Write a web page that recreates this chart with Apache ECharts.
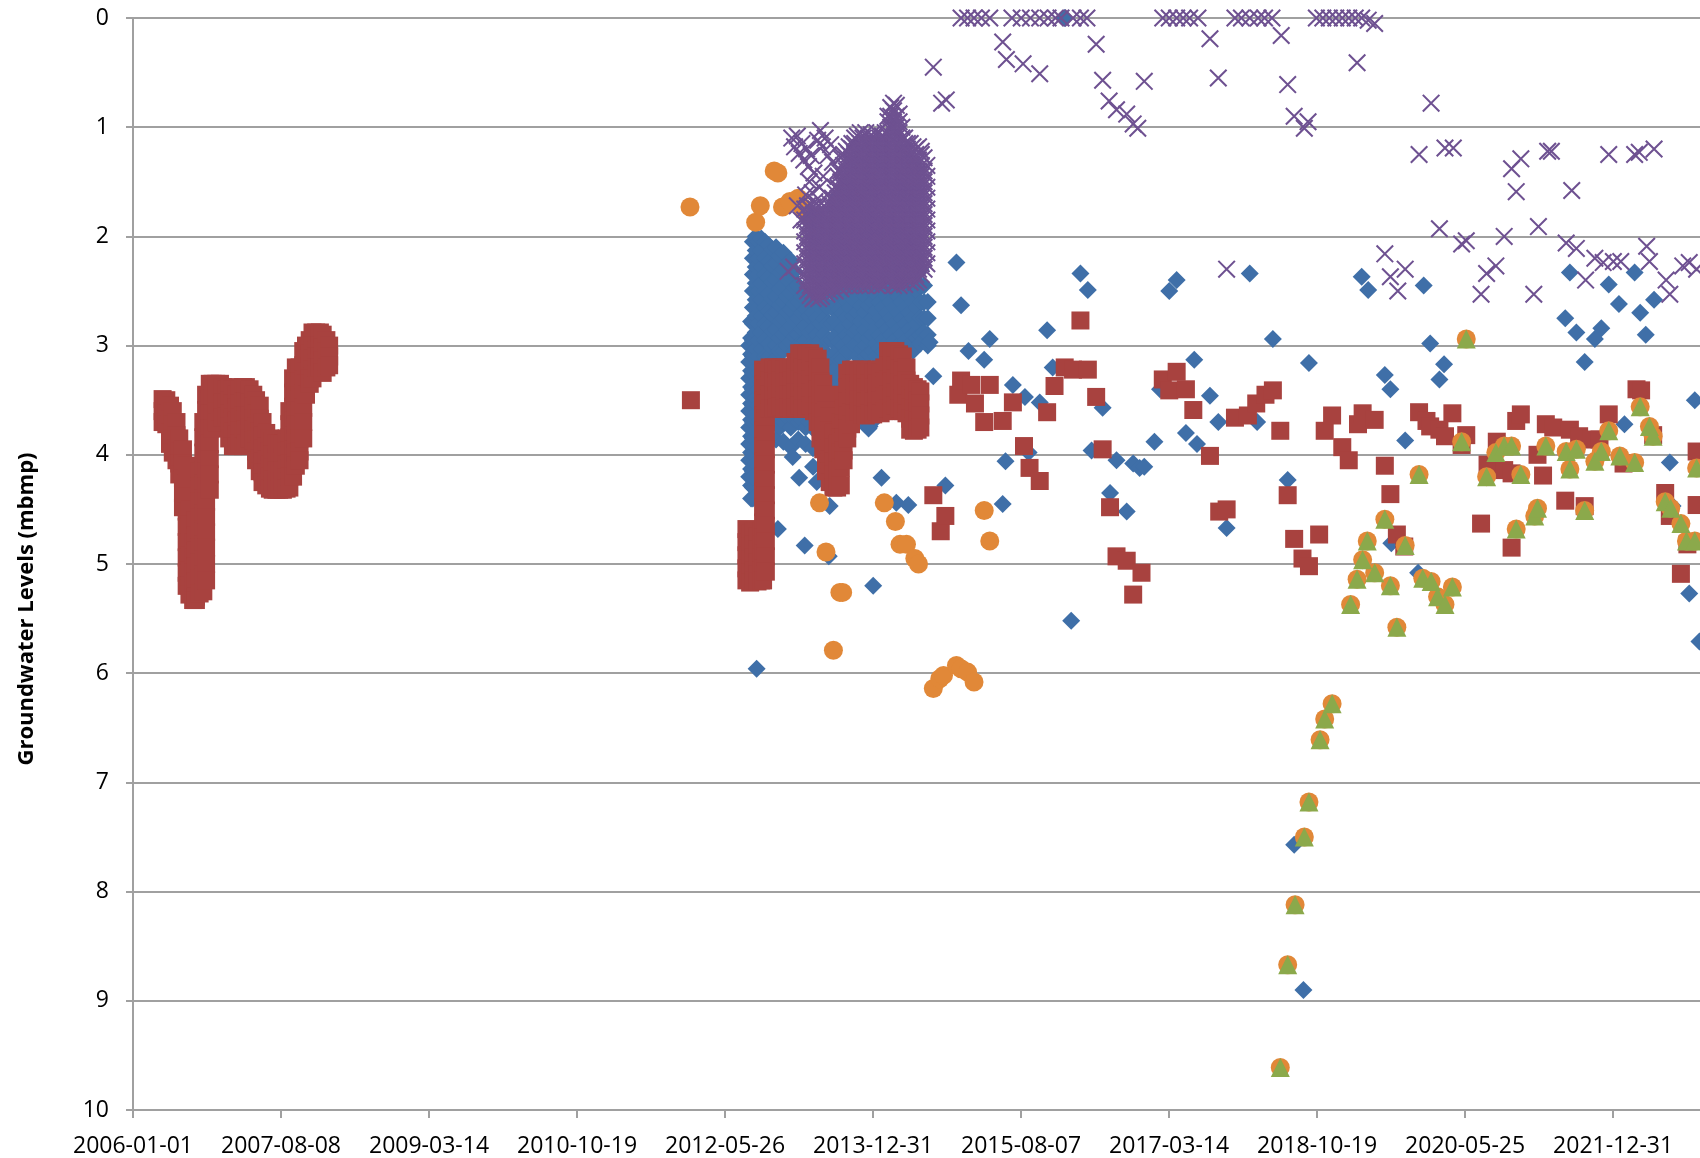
<!DOCTYPE html>
<html>
<head>
<meta charset="utf-8">
<script src="https://cdn.jsdelivr.net/npm/echarts@6/dist/echarts.min.js"></script>
<style>
  html, body { margin: 0; padding: 0; background: #ffffff; }
  #chart { width: 1700px; height: 1158px; }
</style>
</head>
<body>
<div id="chart"></div>
<script>
// Groundwater levels (metres below measuring point) for five monitoring points.
// Times are decimal years; logger stretches are stored as rows [year, level, level, ...].

const dateTicks = ['2006-01-01', '2007-08-08', '2009-03-14', '2010-10-19', '2012-05-26',
  '2013-12-31', '2015-08-07', '2017-03-14', '2018-10-19', '2020-05-25', '2021-12-31'];
const levelTicks = [0, 1, 2, 3, 4, 5, 6, 7, 8, 9, 10];

// --- Point A (blue diamonds) ---
const wellALogger = [
  [2012.66, 3.00, 3.15, 3.30, 3.45, 3.60, 3.75, 3.90, 4.05, 4.20],
  [2012.68, 2.78, 2.93, 3.08, 3.23, 3.38, 3.53, 3.68, 3.83, 3.98, 4.13, 4.28, 4.40],
  [2012.70, 2.05, 2.20, 2.35, 2.50, 2.65, 2.80, 2.95, 3.10, 3.25, 3.40, 3.55, 3.70, 3.85, 4.00, 4.15, 4.30],
  [2012.73, 2.00, 2.13, 2.28, 2.43, 2.58, 2.73, 2.88, 3.03, 3.18, 3.33, 3.48, 3.63, 3.78, 3.93, 4.08, 4.20],
  [2012.76, 2.05, 2.20, 2.35, 2.50, 2.65, 2.80, 2.95, 3.10, 3.25, 3.40, 3.55, 3.70],
  [2012.79, 2.02, 2.13, 2.28, 2.43, 2.58, 2.73, 2.88, 3.03, 3.18, 3.33, 3.48],
  [2012.83, 2.05, 2.20, 2.35, 2.50, 2.65, 2.80, 2.95, 3.10],
  [2012.87, 2.08, 2.23, 2.38, 2.53, 2.68, 2.83, 2.98, 3.10, 3.70, 3.85],
  [2012.91, 2.12, 2.27, 2.42, 2.57, 2.72, 2.87, 3.02, 3.15, 3.68],
  [2012.95, 2.10, 2.25, 2.40, 2.55, 2.70, 2.85, 3.00, 3.12, 3.72, 3.86],
  [2012.99, 2.18, 2.33, 2.48, 2.63, 2.78, 2.93, 3.05, 3.75],
  [2013.03, 2.15, 2.30, 2.45, 2.60, 2.75, 2.90, 3.05, 3.70, 3.88],
  [2013.07, 2.25, 2.40, 2.55, 2.70, 2.85, 3.00, 3.66],
  [2013.11, 2.22, 2.37, 2.52, 2.67, 2.82, 2.97, 3.75, 3.93],
  [2013.15, 2.32, 2.47, 2.62, 2.77, 2.92, 3.05, 3.68],
  [2013.19, 2.45, 2.60, 2.75, 2.90, 3.00, 3.70, 3.86],
  [2013.23, 2.55, 2.70, 2.85, 2.98, 3.68],
  [2013.27, 2.52, 2.67, 2.82, 2.96, 3.75, 3.90],
  [2013.31, 2.58, 2.73, 2.88, 3.00, 3.70],
  [2013.35, 2.55, 2.70, 2.85, 3.00, 3.76, 3.94],
  [2013.39, 2.60, 2.75, 2.90, 3.00],
  [2013.43, 2.50, 2.65, 2.80, 2.95],
  [2013.47, 2.45, 2.60, 2.75, 2.90, 3.05],
  [2013.51, 2.20, 2.35, 2.50, 2.65, 2.80, 2.95, 3.10, 3.22],
  [2013.55, 1.90, 2.05, 2.20, 2.35, 2.50, 2.65, 2.80, 2.95, 3.10, 3.25, 3.40],
  [2013.59, 1.72, 1.87, 2.02, 2.17, 2.32, 2.47, 2.62, 2.77, 2.92, 3.07, 3.22, 3.37, 3.46],
  [2013.63, 1.62, 1.77, 1.92, 2.07, 2.22, 2.37, 2.52, 2.67, 2.82, 2.97, 3.12, 3.27, 3.38],
  [2013.67, 1.65, 1.80, 1.95, 2.10, 2.25, 2.40, 2.55, 2.70, 2.85, 3.00, 3.12],
  [2013.71, 1.55, 1.70, 1.85, 2.00, 2.15, 2.30, 2.45, 2.60, 2.75, 2.90, 3.05],
  [2013.75, 1.60, 1.75, 1.90, 2.05, 2.20, 2.35, 2.50, 2.65, 2.80, 2.95, 3.05],
  [2013.79, 1.68, 1.83, 1.98, 2.13, 2.28, 2.43, 2.58, 2.73, 2.88, 3.00],
  [2013.83, 1.65, 1.80, 1.95, 2.10, 2.25, 2.40, 2.55, 2.70, 2.85, 3.00, 3.10],
  [2013.87, 1.73, 1.88, 2.03, 2.18, 2.33, 2.48, 2.63, 2.78, 2.93, 3.03],
  [2013.91, 1.80, 1.95, 2.10, 2.25, 2.40, 2.55, 2.70, 2.85, 3.00, 3.10, 3.72],
  [2013.95, 1.88, 2.03, 2.18, 2.33, 2.48, 2.63, 2.78, 2.93, 3.08, 3.76],
  [2013.99, 1.85, 2.00, 2.15, 2.30, 2.45, 2.60, 2.75, 2.90, 3.05, 3.70],
  [2014.03, 1.93, 2.08, 2.23, 2.38, 2.53, 2.68, 2.83, 2.98, 3.10],
  [2014.07, 2.00, 2.15, 2.30, 2.45, 2.60, 2.75, 2.90, 3.02],
  [2014.11, 1.90, 2.05, 2.20, 2.35, 2.50, 2.65, 2.80, 2.95, 3.06],
  [2014.15, 1.95, 2.10, 2.25, 2.40, 2.55, 2.70, 2.85, 2.98],
  [2014.19, 1.85, 2.00, 2.15, 2.30, 2.45, 2.60, 2.75, 2.90, 3.02],
  [2014.23, 1.90, 2.05, 2.20, 2.35, 2.50, 2.65, 2.80, 2.95],
  [2014.27, 1.95, 2.10, 2.25, 2.40, 2.55, 2.70, 2.85, 3.00, 3.10],
  [2014.31, 2.00, 2.15, 2.30, 2.45, 2.60, 2.75, 2.90, 3.02],
  [2014.35, 2.05, 2.20, 2.35, 2.50, 2.65, 2.80, 2.95, 3.06],
  [2014.39, 2.10, 2.25, 2.40, 2.55, 2.70, 2.85, 3.00],
  [2014.43, 2.15, 2.30, 2.45, 2.60, 2.75, 2.90, 3.05],
  [2014.47, 2.20, 2.35, 2.50, 2.65, 2.80, 2.93],
  [2014.51, 2.30, 2.45, 2.60, 2.75, 2.90, 2.98],
  [2014.55, 2.45, 2.60, 2.75, 2.88],
  [2014.59, 2.60, 2.75, 2.90, 3.00]
];
const wellASpot = [
  [2012.70, 4.21], [2012.70, 4.40], [2012.74, 5.96], [2012.97, 4.68], [2013.13, 4.02],
  [2013.20, 4.21], [2013.26, 4.83], [2013.35, 4.11], [2013.39, 4.25], [2013.52, 4.93],
  [2013.53, 4.47], [2013.96, 3.74], [2014.00, 5.20], [2014.09, 4.21], [2014.25, 4.44],
  [2014.38, 4.46], [2014.61, 2.97], [2014.65, 3.28], [2014.78, 4.28], [2014.90, 2.24],
  [2014.95, 2.63], [2015.03, 3.05], [2015.20, 3.13], [2015.26, 2.94], [2015.40, 4.45],
  [2015.43, 4.06], [2015.51, 3.36], [2015.64, 3.47], [2015.68, 3.98], [2015.80, 3.52],
  [2015.88, 2.86], [2015.94, 3.20], [2016.07, 0.0], [2016.14, 5.52], [2016.24, 2.34],
  [2016.32, 2.49], [2016.36, 3.96], [2016.48, 3.57], [2016.56, 4.35], [2016.63, 4.05],
  [2016.74, 4.52], [2016.81, 4.08], [2016.88, 4.12], [2016.93, 4.11], [2017.04, 3.88],
  [2017.10, 3.40], [2017.20, 2.50], [2017.28, 2.40], [2017.38, 3.80], [2017.47, 3.13],
  [2017.50, 3.90], [2017.64, 3.46], [2017.73, 3.70], [2017.82, 4.67], [2018.07, 2.34],
  [2018.15, 3.70], [2018.32, 2.94], [2018.48, 4.23], [2018.55, 7.57], [2018.65, 8.90],
  [2018.71, 3.16], [2019.28, 2.37], [2019.35, 2.49], [2019.53, 3.27], [2019.59, 3.40],
  [2019.60, 4.81], [2019.75, 3.87], [2019.89, 5.08], [2019.95, 2.45], [2020.02, 2.98],
  [2020.12, 3.31], [2020.17, 3.17], [2021.48, 2.75], [2021.53, 2.33], [2021.60, 2.88],
  [2021.69, 3.15], [2021.80, 2.94], [2021.87, 2.84], [2021.95, 2.44], [2022.06, 2.62],
  [2022.12, 3.72], [2022.23, 2.33], [2022.29, 2.70], [2022.35, 2.90], [2022.44, 2.58],
  [2022.61, 4.07], [2022.64, 4.47], [2022.82, 5.27], [2022.88, 3.50], [2022.93, 5.71]
];

// --- Point B (red squares) ---
const wellBLogger = [
  [2006.32, 3.49, 3.60, 3.70], [2006.36, 3.50, 3.62, 3.72], [2006.40, 3.55, 3.68, 3.80, 3.90],
  [2006.43, 3.60, 3.72, 3.85, 3.98], [2006.47, 3.70, 3.82, 3.94, 4.05], [2006.50, 3.85, 3.97, 4.08, 4.18],
  [2006.54, 3.95, 4.08, 4.22, 4.35, 4.48],
  [2006.58, 4.10, 4.24, 4.38, 4.52, 4.66, 4.80, 4.94, 5.08, 5.20],
  [2006.61, 4.50, 4.64, 4.78, 4.92, 5.06, 5.20, 5.28],
  [2006.65, 4.80, 4.94, 5.08, 5.22, 5.33],
  [2006.68, 4.60, 4.74, 4.88, 5.02, 5.16, 5.30, 5.33],
  [2006.72, 4.15, 4.29, 4.43, 4.57, 4.71, 4.85, 4.99, 5.13, 5.27],
  [2006.76, 3.70, 3.84, 3.98, 4.12, 4.26, 4.40, 4.54, 4.68, 4.82, 4.96, 5.10, 5.25],
  [2006.79, 3.45, 3.59, 3.73, 3.87, 4.01, 4.15, 4.29, 4.43, 4.57, 4.71, 4.85, 5.00, 5.15],
  [2006.83, 3.35, 3.48, 3.62, 3.76, 3.90, 4.04, 4.18, 4.32],
  [2006.86, 3.35, 3.48, 3.62, 3.76], [2006.90, 3.35, 3.48, 3.60, 3.70], [2006.94, 3.35, 3.48, 3.60],
  [2006.97, 3.38, 3.52, 3.66], [2007.01, 3.40, 3.52, 3.65], [2007.04, 3.38, 3.50, 3.62, 3.74, 3.85],
  [2007.08, 3.40, 3.53, 3.66, 3.79, 3.92], [2007.12, 3.45, 3.57, 3.69, 3.81, 3.92],
  [2007.15, 3.40, 3.53, 3.66, 3.78, 3.90], [2007.19, 3.38, 3.51, 3.64, 3.78, 3.92],
  [2007.22, 3.38, 3.51, 3.64, 3.77, 3.90], [2007.26, 3.40, 3.52, 3.64, 3.75, 3.85],
  [2007.30, 3.45, 3.56, 3.67, 3.77, 3.87], [2007.33, 3.50, 3.62, 3.74, 3.86, 3.97, 4.05],
  [2007.37, 3.55, 3.67, 3.79, 3.91, 4.03, 4.15], [2007.40, 3.70, 3.82, 3.94, 4.06, 4.16, 4.25],
  [2007.44, 3.80, 3.92, 4.04, 4.16, 4.28], [2007.48, 3.85, 3.97, 4.09, 4.20, 4.31],
  [2007.51, 3.88, 4.00, 4.12, 4.23, 4.32], [2007.55, 3.90, 4.02, 4.14, 4.24, 4.32],
  [2007.58, 3.90, 4.02, 4.14, 4.24, 4.32], [2007.62, 3.90, 4.02, 4.14, 4.24, 4.32],
  [2007.66, 3.85, 3.97, 4.09, 4.21, 4.31], [2007.69, 3.60, 3.72, 3.84, 3.96, 4.08, 4.20, 4.30],
  [2007.73, 3.30, 3.43, 3.56, 3.69, 3.82, 3.95, 4.08, 4.20],
  [2007.76, 3.20, 3.33, 3.46, 3.59, 3.72, 3.85, 3.98, 4.10],
  [2007.80, 3.20, 3.33, 3.46, 3.59, 3.72, 3.85, 3.97, 4.05],
  [2007.84, 3.05, 3.18, 3.31, 3.44, 3.57, 3.70, 3.85],
  [2007.87, 3.00, 3.12, 3.24, 3.35, 3.45], [2007.91, 2.95, 3.07, 3.19, 3.30, 3.35],
  [2007.94, 2.88, 3.00, 3.12, 3.22, 3.30], [2007.98, 2.88, 3.00, 3.10, 3.20],
  [2008.02, 2.88, 3.00, 3.10, 3.20], [2008.05, 2.90, 3.02, 3.14, 3.25],
  [2008.09, 2.95, 3.05, 3.15, 3.20], [2008.12, 3.00, 3.10, 3.18],
  [2012.03, 3.50],
  [2012.63, 4.68, 4.80, 4.92, 5.04, 5.15], [2012.67, 4.72, 4.84, 4.96, 5.08, 5.17],
  [2012.71, 4.70, 4.82, 4.94, 5.06, 5.15], [2012.75, 4.75, 4.87, 4.99, 5.10, 5.16],
  [2012.79, 4.70, 4.82, 4.94, 5.06, 5.15],
  [2012.81, 3.22, 3.36, 3.50, 3.64, 3.78, 3.92, 4.06, 4.20, 4.34, 4.48, 4.62, 4.76, 4.90, 5.04, 5.15],
  [2012.84, 3.25, 3.39, 3.53, 3.67, 3.81, 3.95, 4.09, 4.23, 4.37, 4.51, 4.65, 4.79, 4.93, 5.07],
  [2012.88, 3.20, 3.32, 3.45, 3.58], [2012.92, 3.20, 3.33, 3.46, 3.58], [2012.96, 3.22, 3.34, 3.46, 3.57],
  [2013.00, 3.20, 3.32, 3.44, 3.56], [2013.04, 3.22, 3.34, 3.46, 3.58], [2013.08, 3.20, 3.33, 3.45, 3.57],
  [2013.12, 3.20, 3.32, 3.45, 3.58], [2013.16, 3.15, 3.29, 3.43, 3.57], [2013.20, 3.07, 3.19, 3.31, 3.43, 3.55],
  [2013.24, 3.07, 3.20, 3.33, 3.46, 3.58], [2013.28, 3.08, 3.21, 3.34, 3.46, 3.58],
  [2013.32, 3.07, 3.19, 3.31, 3.43, 3.55], [2013.36, 3.10, 3.23, 3.36, 3.48, 3.60],
  [2013.40, 3.12, 3.26, 3.40, 3.55, 3.70], [2013.43, 3.20, 3.33, 3.46, 3.60, 3.73, 3.85],
  [2013.46, 3.35, 3.48, 3.61, 3.74, 3.86, 3.95], [2013.49, 3.45, 3.59, 3.73, 3.87, 4.01, 4.15],
  [2013.53, 3.65, 3.78, 3.91, 4.04, 4.15, 4.25], [2013.57, 3.80, 3.93, 4.06, 4.18, 4.30],
  [2013.61, 3.90, 4.02, 4.14, 4.24, 4.30], [2013.65, 3.70, 3.84, 3.98, 4.12, 4.28],
  [2013.68, 3.45, 3.58, 3.71, 3.84, 3.96, 4.05], [2013.72, 3.25, 3.38, 3.51, 3.64, 3.76, 3.85],
  [2013.76, 3.22, 3.35, 3.48, 3.61, 3.72], [2013.80, 3.22, 3.35, 3.48, 3.62],
  [2013.84, 3.25, 3.37, 3.49, 3.60], [2013.88, 3.22, 3.35, 3.49, 3.63],
  [2013.92, 3.25, 3.38, 3.51, 3.64], [2013.96, 3.22, 3.35, 3.49, 3.62],
  [2014.00, 3.25, 3.38, 3.51, 3.63], [2014.04, 3.22, 3.35, 3.48, 3.60],
  [2014.08, 3.25, 3.37, 3.50, 3.62], [2014.12, 3.20, 3.33, 3.47, 3.60],
  [2014.16, 3.05, 3.18, 3.31, 3.45, 3.58], [2014.20, 3.05, 3.19, 3.33, 3.47, 3.60],
  [2014.24, 3.05, 3.18, 3.30, 3.43, 3.55], [2014.28, 3.08, 3.21, 3.34, 3.46, 3.58],
  [2014.32, 3.10, 3.23, 3.36, 3.48, 3.60], [2014.36, 3.20, 3.32, 3.44, 3.53, 3.62],
  [2014.40, 3.35, 3.46, 3.57, 3.67, 3.77], [2014.44, 3.38, 3.48, 3.58, 3.68, 3.78],
  [2014.48, 3.40, 3.50, 3.60, 3.69, 3.77], [2014.51, 3.42, 3.53, 3.64, 3.75]
];
const wellBSpot = [
  [2014.65, 4.37], [2014.73, 4.70], [2014.78, 4.56], [2014.92, 3.45], [2014.95, 3.32],
  [2015.06, 3.36], [2015.10, 3.53], [2015.20, 3.70], [2015.26, 3.36], [2015.40, 3.69],
  [2015.51, 3.52], [2015.63, 3.92], [2015.69, 4.12], [2015.80, 4.24], [2015.88, 3.61],
  [2015.96, 3.37], [2016.07, 3.20], [2016.16, 3.22], [2016.24, 2.77], [2016.32, 3.22],
  [2016.41, 3.47], [2016.48, 3.95], [2016.56, 4.48], [2016.63, 4.93], [2016.74, 4.97],
  [2016.81, 5.28], [2016.90, 5.08], [2017.13, 3.31], [2017.20, 3.41], [2017.28, 3.24],
  [2017.38, 3.40], [2017.46, 3.59], [2017.64, 4.01], [2017.74, 4.52], [2017.82, 4.50],
  [2017.91, 3.66], [2018.05, 3.64], [2018.14, 3.53], [2018.24, 3.45], [2018.32, 3.41],
  [2018.40, 3.78], [2018.48, 4.37], [2018.55, 4.77], [2018.64, 4.95], [2018.71, 5.02],
  [2018.82, 4.73], [2018.88, 3.78], [2018.96, 3.64], [2019.07, 3.93], [2019.14, 4.05],
  [2019.24, 3.72], [2019.29, 3.62], [2019.42, 3.68], [2019.53, 4.10], [2019.59, 4.36],
  [2019.66, 4.73], [2019.74, 4.84], [2019.90, 3.61], [2019.98, 3.69], [2020.02, 3.74],
  [2020.12, 3.77], [2020.18, 3.83], [2020.26, 3.62], [2020.36, 3.91], [2020.41, 3.82],
  [2020.57, 4.63], [2020.64, 4.09], [2020.74, 3.88], [2020.82, 4.14], [2020.90, 4.17],
  [2020.90, 4.85], [2020.95, 3.69], [2021.00, 3.63], [2021.18, 4.00], [2021.24, 4.19],
  [2021.27, 3.72], [2021.35, 3.75], [2021.48, 4.42], [2021.53, 3.77], [2021.63, 3.83],
  [2021.69, 4.47], [2021.76, 3.86], [2021.85, 3.86], [2021.95, 3.63], [2022.11, 4.08],
  [2022.25, 3.40], [2022.30, 3.41], [2022.43, 3.82], [2022.56, 4.35], [2022.61, 4.56],
  [2022.73, 5.09], [2022.80, 4.82], [2022.90, 3.97], [2022.90, 4.46]
];

// --- Point D (green triangles); point C shares these later visits ---
const wellD = [
  [2018.40, 9.61], [2018.48, 8.67], [2018.56, 8.12], [2018.66, 7.50], [2018.71, 7.18],
  [2018.83, 6.61], [2018.88, 6.42], [2018.96, 6.28], [2019.16, 5.37], [2019.23, 5.14],
  [2019.29, 4.96], [2019.34, 4.79], [2019.42, 5.08], [2019.53, 4.59], [2019.59, 5.20],
  [2019.66, 5.58], [2019.75, 4.83], [2019.90, 4.18], [2019.94, 5.13], [2020.03, 5.16],
  [2020.10, 5.30], [2020.18, 5.37], [2020.26, 5.21], [2020.36, 3.88], [2020.41, 2.94],
  [2020.63, 4.20], [2020.73, 3.98], [2020.82, 3.92], [2020.90, 3.92], [2020.95, 4.68],
  [2021.00, 4.18], [2021.15, 4.56], [2021.18, 4.49], [2021.27, 3.92], [2021.49, 3.97],
  [2021.53, 4.13], [2021.60, 3.95], [2021.69, 4.51], [2021.80, 4.06], [2021.87, 3.97],
  [2021.95, 3.78], [2022.07, 4.01], [2022.23, 4.07], [2022.29, 3.56], [2022.39, 3.74],
  [2022.43, 3.83], [2022.56, 4.43], [2022.62, 4.49], [2022.73, 4.63], [2022.79, 4.79],
  [2022.88, 4.79], [2022.90, 4.12]
];

// --- Point C (orange circles) ---
const wellCEarly = [
  [2012.02, 1.73], [2012.73, 1.87], [2012.78, 1.72], [2012.93, 1.40], [2012.97, 1.42],
  [2013.02, 1.73], [2013.10, 1.68], [2013.19, 1.65], [2013.24, 1.74], [2013.30, 1.81],
  [2013.42, 4.44], [2013.49, 4.89], [2013.57, 5.79], [2013.64, 5.26], [2013.67, 5.26],
  [2014.12, 4.44], [2014.24, 4.61], [2014.29, 4.82], [2014.36, 4.82], [2014.45, 4.95],
  [2014.49, 5.00], [2014.65, 6.14], [2014.72, 6.05], [2014.76, 6.02], [2014.90, 5.93],
  [2014.95, 5.96], [2015.02, 5.99], [2015.09, 6.08], [2015.20, 4.51], [2015.26, 4.79]
];
const wellC = wellCEarly.concat(wellD);

// --- Point E (purple crosses) ---
const wellELogger = [
  [2013.26, 1.75, 1.85, 1.95, 2.05, 2.15, 2.25, 2.35, 2.45],
  [2013.29, 1.72, 1.80, 1.90, 2.00, 2.10, 2.20, 2.30, 2.40, 2.50],
  [2013.32, 1.75, 1.85, 1.95, 2.05, 2.15, 2.25, 2.35, 2.45, 2.54],
  [2013.35, 1.73, 1.80, 1.90, 2.00, 2.10, 2.20, 2.30, 2.40, 2.50, 2.57],
  [2013.38, 1.75, 1.85, 1.95, 2.05, 2.15, 2.25, 2.35, 2.45, 2.55],
  [2013.41, 1.72, 1.80, 1.90, 2.00, 2.10, 2.20, 2.30, 2.40, 2.50, 2.57],
  [2013.44, 1.75, 1.85, 1.95, 2.05, 2.15, 2.25, 2.35, 2.45, 2.55],
  [2013.47, 1.72, 1.80, 1.90, 2.00, 2.10, 2.20, 2.30, 2.40, 2.50],
  [2013.50, 1.75, 1.85, 1.95, 2.05, 2.15, 2.25, 2.35, 2.45, 2.53],
  [2013.53, 1.70, 1.80, 1.90, 2.00, 2.10, 2.20, 2.30, 2.40, 2.50],
  [2013.56, 1.65, 1.75, 1.85, 1.95, 2.05, 2.15, 2.25, 2.35, 2.45],
  [2013.59, 1.55, 1.60, 1.70, 1.80, 1.90, 2.00, 2.10, 2.20, 2.30, 2.40, 2.50],
  [2013.62, 1.40, 1.45, 1.55, 1.65, 1.75, 1.85, 1.95, 2.05, 2.15, 2.25, 2.35, 2.45],
  [2013.65, 1.28, 1.40, 1.50, 1.60, 1.70, 1.80, 1.90, 2.00, 2.10, 2.20, 2.30, 2.40, 2.48],
  [2013.68, 1.25, 1.35, 1.45, 1.55, 1.65, 1.75, 1.85, 1.95, 2.05, 2.15, 2.25, 2.35, 2.45],
  [2013.71, 1.22, 1.30, 1.40, 1.50, 1.60, 1.70, 1.80, 1.90, 2.00, 2.10, 2.20, 2.30, 2.40],
  [2013.74, 1.18, 1.25, 1.35, 1.45, 1.55, 1.65, 1.75, 1.85, 1.95, 2.05, 2.15, 2.25, 2.35, 2.45],
  [2013.77, 1.15, 1.20, 1.30, 1.40, 1.50, 1.60, 1.70, 1.80, 1.90, 2.00, 2.10, 2.20, 2.30, 2.40],
  [2013.80, 1.10, 1.15, 1.25, 1.35, 1.45, 1.55, 1.65, 1.75, 1.85, 1.95, 2.05, 2.15, 2.25, 2.35, 2.45],
  [2013.83, 1.08, 1.20, 1.30, 1.40, 1.50, 1.60, 1.70, 1.80, 1.90, 2.00, 2.10, 2.20, 2.30, 2.40],
  [2013.86, 1.05, 1.15, 1.25, 1.35, 1.45, 1.55, 1.65, 1.75, 1.85, 1.95, 2.05, 2.15, 2.25, 2.35, 2.45],
  [2013.89, 1.10, 1.20, 1.30, 1.40, 1.50, 1.60, 1.70, 1.80, 1.90, 2.00, 2.10, 2.20, 2.30, 2.40],
  [2013.92, 1.05, 1.15, 1.25, 1.35, 1.45, 1.55, 1.65, 1.75, 1.85, 1.95, 2.05, 2.15, 2.25, 2.35, 2.45],
  [2013.95, 1.10, 1.20, 1.30, 1.40, 1.50, 1.60, 1.70, 1.80, 1.90, 2.00, 2.10, 2.20, 2.30, 2.40],
  [2013.98, 1.07, 1.15, 1.25, 1.35, 1.45, 1.55, 1.65, 1.75, 1.85, 1.95, 2.05, 2.15, 2.25, 2.35, 2.44],
  [2014.01, 1.10, 1.20, 1.30, 1.40, 1.50, 1.60, 1.70, 1.80, 1.90, 2.00, 2.10, 2.20, 2.30, 2.40],
  [2014.04, 1.05, 1.15, 1.25, 1.35, 1.45, 1.55, 1.65, 1.75, 1.85, 1.95, 2.05, 2.15, 2.25, 2.35, 2.45],
  [2014.07, 1.10, 1.20, 1.30, 1.40, 1.50, 1.60, 1.70, 1.80, 1.90, 2.00, 2.10, 2.20, 2.30, 2.40],
  [2014.10, 1.08, 1.15, 1.25, 1.35, 1.45, 1.55, 1.65, 1.75, 1.85, 1.95, 2.05, 2.15, 2.25, 2.35, 2.45],
  [2014.13, 1.05, 1.10, 1.20, 1.30, 1.40, 1.50, 1.60, 1.70, 1.80, 1.90, 2.00, 2.10, 2.20, 2.30, 2.40],
  [2014.16, 0.90, 0.95, 1.05, 1.15, 1.25, 1.35, 1.45, 1.55, 1.65, 1.75, 1.85, 1.95, 2.05, 2.15, 2.25, 2.35, 2.42],
  [2014.19, 0.82, 0.90, 1.00, 1.10, 1.20, 1.30, 1.40, 1.50, 1.60, 1.70, 1.80, 1.90, 2.00, 2.10, 2.20, 2.30, 2.40],
  [2014.22, 0.78, 0.85, 0.95, 1.05, 1.15, 1.25, 1.35, 1.45, 1.55, 1.65, 1.75, 1.85, 1.95, 2.05, 2.15, 2.25, 2.35, 2.45],
  [2014.25, 0.80, 0.90, 1.00, 1.10, 1.20, 1.30, 1.40, 1.50, 1.60, 1.70, 1.80, 1.90, 2.00, 2.10, 2.20, 2.30, 2.40],
  [2014.28, 0.88, 0.95, 1.05, 1.15, 1.25, 1.35, 1.45, 1.55, 1.65, 1.75, 1.85, 1.95, 2.05, 2.15, 2.25, 2.35, 2.45],
  [2014.31, 1.00, 1.10, 1.20, 1.30, 1.40, 1.50, 1.60, 1.70, 1.80, 1.90, 2.00, 2.10, 2.20, 2.30, 2.40],
  [2014.34, 1.10, 1.15, 1.25, 1.35, 1.45, 1.55, 1.65, 1.75, 1.85, 1.95, 2.05, 2.15, 2.25, 2.35, 2.44],
  [2014.37, 1.15, 1.20, 1.30, 1.40, 1.50, 1.60, 1.70, 1.80, 1.90, 2.00, 2.10, 2.20, 2.30, 2.40],
  [2014.40, 1.15, 1.25, 1.35, 1.45, 1.55, 1.65, 1.75, 1.85, 1.95, 2.05, 2.15, 2.25, 2.35, 2.42],
  [2014.43, 1.18, 1.30, 1.40, 1.50, 1.60, 1.70, 1.80, 1.90, 2.00, 2.10, 2.20, 2.30, 2.40],
  [2014.46, 1.20, 1.25, 1.35, 1.45, 1.55, 1.65, 1.75, 1.85, 1.95, 2.05, 2.15, 2.25, 2.35, 2.42],
  [2014.49, 1.18, 1.30, 1.40, 1.50, 1.60, 1.70, 1.80, 1.90, 2.00, 2.10, 2.20, 2.30, 2.40],
  [2014.52, 1.22, 1.25, 1.35, 1.45, 1.55, 1.65, 1.75, 1.85, 1.95, 2.05, 2.15, 2.25, 2.35],
  [2014.55, 1.28, 1.40, 1.50, 1.60, 1.70, 1.80, 1.90, 2.00, 2.10, 2.20, 2.30],
  [2014.58, 1.35, 1.45, 1.55, 1.65, 1.75, 1.85, 1.95, 2.05, 2.15, 2.25]
];
const wellESpot = [
  [2013.08, 2.32], [2013.12, 1.10], [2013.14, 2.28], [2013.15, 1.18], [2013.18, 1.08],
  [2013.18, 1.72], [2013.20, 1.24], [2013.22, 1.85], [2013.23, 1.15], [2013.25, 1.30],
  [2013.27, 1.62], [2013.28, 1.20], [2013.30, 1.36], [2013.31, 1.50], [2013.33, 1.26],
  [2013.34, 1.60], [2013.36, 1.42], [2013.37, 1.68], [2013.40, 1.12], [2013.42, 1.55],
  [2013.43, 1.03], [2013.45, 1.18], [2013.46, 1.45], [2013.48, 1.10], [2013.50, 1.62],
  [2013.51, 1.26], [2013.54, 1.16], [2013.56, 1.32],
  [2014.65, 0.45], [2014.74, 0.78], [2014.79, 0.75], [2014.95, 0.0], [2015.02, 0.0],
  [2015.09, 0.0], [2015.17, 0.0], [2015.26, 0.0], [2015.40, 0.22], [2015.44, 0.38],
  [2015.50, 0.0], [2015.60, 0.0], [2015.62, 0.42], [2015.70, 0.0], [2015.80, 0.0],
  [2015.80, 0.51], [2015.89, 0.0], [2015.97, 0.0], [2016.03, 0.0], [2016.16, 0.0],
  [2016.24, 0.0], [2016.31, 0.0], [2016.41, 0.24], [2016.48, 0.57], [2016.55, 0.76],
  [2016.63, 0.84], [2016.74, 0.88], [2016.81, 0.97], [2016.86, 1.01], [2016.93, 0.58],
  [2017.13, 0.0], [2017.20, 0.0], [2017.28, 0.0], [2017.35, 0.0], [2017.42, 0.0],
  [2017.51, 0.0], [2017.64, 0.19], [2017.73, 0.55], [2017.82, 2.30], [2017.91, 0.0],
  [2017.98, 0.0], [2018.07, 0.0], [2018.16, 0.0], [2018.23, 0.0], [2018.31, 0.0],
  [2018.41, 0.16], [2018.48, 0.61], [2018.55, 0.90], [2018.66, 1.01], [2018.70, 0.95],
  [2018.79, 0.0], [2018.86, 0.0], [2018.93, 0.0], [2019.00, 0.0], [2019.07, 0.0],
  [2019.14, 0.0], [2019.21, 0.0], [2019.23, 0.41], [2019.28, 0.0], [2019.35, 0.02],
  [2019.42, 0.05], [2019.53, 2.16], [2019.59, 2.37], [2019.67, 2.50], [2019.75, 2.30],
  [2019.90, 1.25], [2020.03, 0.78], [2020.12, 1.93], [2020.18, 1.19], [2020.27, 1.19],
  [2020.36, 2.07], [2020.41, 2.04], [2020.57, 2.53], [2020.63, 2.34], [2020.73, 2.27],
  [2020.82, 2.00], [2020.90, 1.38], [2020.95, 1.59], [2021.00, 1.29], [2021.14, 2.53],
  [2021.19, 1.91], [2021.29, 1.22], [2021.33, 1.22], [2021.49, 2.06], [2021.55, 1.58],
  [2021.60, 2.11], [2021.70, 2.40], [2021.80, 2.20], [2021.89, 2.24], [2021.95, 1.25],
  [2022.00, 2.23], [2022.08, 2.23], [2022.23, 1.25], [2022.28, 1.23], [2022.36, 2.09],
  [2022.39, 2.23], [2022.44, 1.20], [2022.57, 2.40], [2022.61, 2.53], [2022.75, 2.27],
  [2022.82, 2.24], [2022.90, 2.30]
];

// ---------------------------------------------------------------------------
const TICK_STEP = 584.3;          // days between date labels
const AXIS_END = 6186;            // days shown up to the right edge

// decimal year -> days since 2006-01-01
const toDays = (t) => (t - 2006) * 365.25;
const unpackRows = (rows) => rows.flatMap(([t, ...levels]) => levels.map((v) => [toDays(t), v]));
const points = (pairs) => pairs.map(([t, v]) => [toDays(t), v]);

const crossPath = 'path://M0,0.8L0.8,0L10,9.2L9.2,10ZM9.2,0L10,0.8L0.8,10L0,9.2Z';
const labelFont = { fontFamily: 'Open Sans', fontSize: 23, color: '#000000' };
const gridGrey = '#A0A0A0';

function scatter(name, data, symbol, size, color, z) {
  return {
    name, type: 'scatter', data, symbol, symbolSize: size, clip: false, z,
    itemStyle: { color, opacity: 1, borderWidth: 0 },
    emphasis: { disabled: true }
  };
}

const chart = echarts.init(document.getElementById('chart'), null, { renderer: 'canvas' });
chart.setOption({
  animation: false,
  backgroundColor: '#ffffff',
  grid: { left: 133, right: 0, top: 18, bottom: 48, containLabel: false },
  xAxis: {
    type: 'value', min: 0, max: AXIS_END, interval: TICK_STEP,
    axisLine: { show: true, onZero: false, lineStyle: { color: gridGrey, width: 2 } },
    axisTick: { show: true, inside: false, length: 8, lineStyle: { color: gridGrey, width: 2 } },
    splitLine: { show: false },
    axisLabel: {
      ...labelFont, margin: 25, showMaxLabel: false,
      formatter: (v, i) => dateTicks[i] || ''
    }
  },
  yAxis: {
    type: 'value', inverse: true, min: 0, max: 10, interval: 1,
    axisLine: { show: true, onZero: false, lineStyle: { color: gridGrey, width: 2 } },
    axisTick: { show: true, inside: false, length: 7, lineStyle: { color: gridGrey, width: 2 } },
    splitLine: { show: true, lineStyle: { color: gridGrey, width: 2 } },
    axisLabel: { ...labelFont, margin: 24, formatter: (v) => (levelTicks.includes(v) ? String(v) : '') }
  },
  graphic: [{
    type: 'text', x: 27, y: 609, rotation: Math.PI / 2,
    style: {
      text: 'Groundwater Levels (mbmp)', fill: '#000000',
      font: 'bold 22px "Open Sans"', align: 'center', verticalAlign: 'middle'
    }
  }],
  series: [
    scatter('A', unpackRows(wellALogger).concat(points(wellASpot)), 'diamond', 18, '#3F6FA8', 2),
    scatter('B', unpackRows(wellBLogger).concat(points(wellBSpot)), 'rect', 18, '#A8423F', 3),
    scatter('C', points(wellC), 'circle', 19, '#E18838', 4),
    scatter('D', points(wellD), 'triangle', 19, '#8BA94B', 5),
    scatter('E', unpackRows(wellELogger).concat(points(wellESpot)), crossPath, 18, '#6E5191', 6)
  ]
});
</script>
</body>
</html>
